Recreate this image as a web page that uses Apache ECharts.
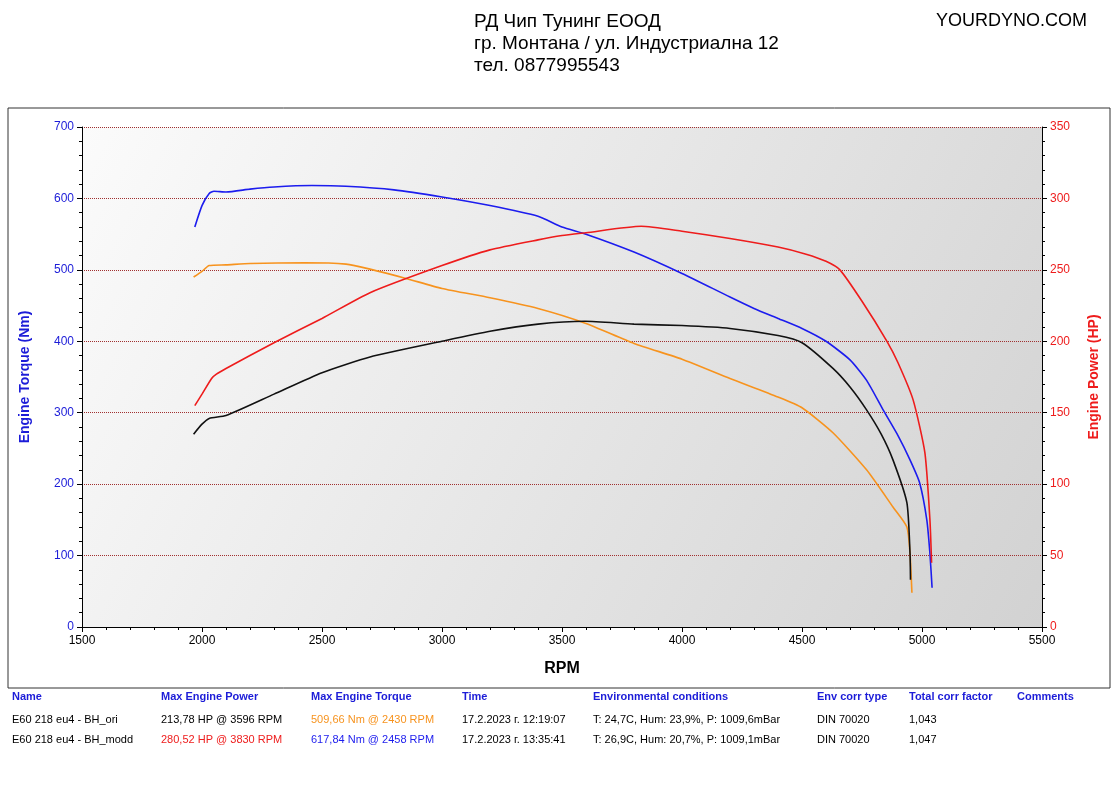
<!DOCTYPE html>
<html><head><meta charset="utf-8">
<script src="https://cdn.jsdelivr.net/npm/echarts@6/dist/echarts.min.js"></script>
<style>html,body{margin:0;padding:0;background:#fff}#c{width:1118px;height:794px}</style>
</head><body><div id="c"></div>
<script>
// RPM, Nm / HP
const torqueModd = [[1970,560],[2000,590],[2030,607],[2050,610],[2100,609],[2200,613],[2300,616],[2458,618],[2600,617],[2800,612],[3000,602],[3200,590],[3400,575],[3500,560],[3600,550],[3800,525],[4000,495],[4200,462],[4300,446],[4400,432],[4500,418],[4600,400],[4700,374],[4770,345],[4838,304],[4900,268],[4950,234],[4990,202],[5020,150],[5033,103],[5042,55]];
const torqueOri = [[1965,490],[2000,498],[2030,506],[2100,507],[2200,509],[2430,510],[2600,508],[2700,501],[2850,488],[3000,474],[3200,461],[3400,446],[3600,425],[3800,397],[4000,375],[4200,348],[4400,322],[4500,307],[4629,272],[4769,220],[4879,168],[4937,140],[4950,103],[4958,48]];
const powerModd = [[1970,155],[2000,163],[2040,174],[2060,177],[2100,181],[2300,199],[2500,216],[2700,234],[3000,253],[3200,264],[3400,271],[3500,274],[3600,276],[3830,280.5],[4000,277],[4200,272],[4400,266],[4517,261],[4600,256],[4658,250],[4750,228],[4854,200],[4900,185],[4963,159],[5012,122],[5033,75],[5040,45]];
const powerOri = [[1965,135],[2000,142],[2030,146],[2100,148],[2300,163],[2500,178],[2700,189],[3000,200],[3200,207],[3400,212],[3596,214],[3800,212],[4000,211],[4200,209],[4400,204],[4500,199],[4629,181],[4700,168],[4769,152],[4830,135],[4879,117],[4937,87],[4950,52],[4952,33]];
const headers = ['Name','Max Engine Power','Max Engine Torque','Time','Environmental conditions','Env corr type','Total corr factor','Comments'];
const row1 = ['E60 218 eu4 - BH_ori','213,78 HP @ 3596 RPM','509,66 Nm @ 2430 RPM','17.2.2023 г. 12:19:07','T: 24,7C, Hum: 23,9%, P: 1009,6mBar','DIN 70020','1,043',''];
const row2 = ['E60 218 eu4 - BH_modd','280,52 HP @ 3830 RPM','617,84 Nm @ 2458 RPM','17.2.2023 г. 13:35:41','T: 26,9C, Hum: 20,7%, P: 1009,1mBar','DIN 70020','1,047',''];
const colX = [12,161,311,462,593,817,909,1017];
const row1Colors = ['#000','#000','#f7931e','#000','#000','#000','#000','#000'];
const row2Colors = ['#000','#ee1c1c','#1c1cee','#000','#000','#000','#000','#000'];

const ch = echarts.init(document.getElementById('c'));
const g = [];
g.push({type:'rect',shape:{x:8,y:108,width:1102,height:580},style:{fill:'none',stroke:'#333',lineWidth:1},z:-1});
g.push({type:'text',left:474,top:11,style:{text:'РД Чип Тунинг ЕООД\nгр. Монтана / ул. Индустриална 12\nтел. 0877995543',font:'19px "Liberation Sans", Arial',lineHeight:22,fill:'#000'}});
g.push({type:'text',left:936,top:12,style:{text:'YOURDYNO.COM',font:'18px "Liberation Sans", Arial',fill:'#000'}});
headers.forEach((h,i)=>g.push({type:'text',left:colX[i],top:691,style:{text:h,font:'bold 11px "Liberation Sans", Arial',fill:'#1c1cd8'}}));
row1.forEach((t,i)=>g.push({type:'text',left:colX[i],top:714,style:{text:t,font:'11px "Liberation Sans", Arial',fill:row1Colors[i]}}));
row2.forEach((t,i)=>g.push({type:'text',left:colX[i],top:734,style:{text:t,font:'11px "Liberation Sans", Arial',fill:row2Colors[i]}}));

const ln = (name,data,color,yi)=>({name,type:'line',data,yAxisIndex:yi,showSymbol:false,smooth:0.2,lineStyle:{color,width:1.6},itemStyle:{color}});
const plain = v=>String(v);
ch.setOption({
  animation:false,
  graphic:g,
  grid:{left:82,right:76,top:127,bottom:167,show:true,borderWidth:0,
    backgroundColor:new echarts.graphic.LinearGradient(0,0,1,1,[{offset:0,color:'#fbfbfb'},{offset:1,color:'#d2d2d2'}])},
  xAxis:{type:'value',min:1500,max:5500,interval:500,name:'RPM',nameLocation:'middle',nameGap:34,
    nameTextStyle:{fontSize:16,fontWeight:'bold',color:'#000'},
    axisLine:{show:true,lineStyle:{color:'#000'}},axisTick:{show:true,lineStyle:{color:'#000'}},
    minorTick:{show:true,splitNumber:5,lineStyle:{color:'#000'}},
    axisLabel:{color:'#000',fontSize:12,formatter:plain},splitLine:{show:false}},
  yAxis:[
    {type:'value',min:0,max:700,interval:100,name:'Engine Torque (Nm)',nameLocation:'middle',nameGap:50,
     nameTextStyle:{color:'#1c1cd8',fontWeight:'bold',fontSize:14},
     axisLine:{show:true,lineStyle:{color:'#000'}},axisTick:{show:true,lineStyle:{color:'#000'}},
     minorTick:{show:true,splitNumber:5,lineStyle:{color:'#000'}},
     axisLabel:{color:'#1c1cd8',fontSize:12,formatter:plain},
     splitLine:{show:true,lineStyle:{color:'#a03030',type:'dotted',width:1}}},
    {type:'value',min:0,max:350,interval:50,name:'Engine Power (HP)',nameLocation:'middle',nameGap:45,nameRotate:90,
     nameTextStyle:{color:'#ee1c1c',fontWeight:'bold',fontSize:14},
     axisLine:{show:true,lineStyle:{color:'#000'}},axisTick:{show:true,lineStyle:{color:'#000'}},
     minorTick:{show:true,splitNumber:5,lineStyle:{color:'#000'}},
     axisLabel:{color:'#ee1c1c',fontSize:12,formatter:plain},splitLine:{show:false}}
  ],
  series:[
    ln('Torque modd',torqueModd,'#1c1cee',0),
    ln('Torque ori',torqueOri,'#f7931e',0),
    ln('Power modd',powerModd,'#ee1c1c',1),
    ln('Power ori',powerOri,'#111111',1)
  ]
});
</script></body></html>
